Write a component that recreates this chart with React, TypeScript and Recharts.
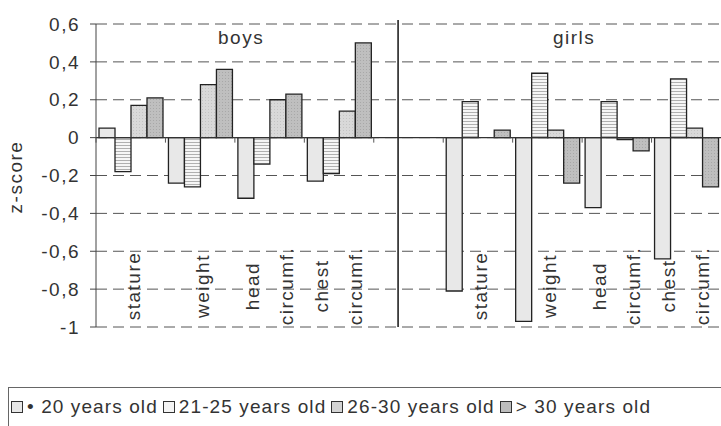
import { BarChart, Bar, XAxis, YAxis, CartesianGrid, ReferenceLine } from 'recharts'

// categories: 4 boys measures, an empty spacer, 4 girls measures
const categories = [
  'stature', 'weight', 'head circumf.', 'chest circumf.', '',
  'stature', 'weight', 'head circumf.', 'chest circumf.',
]
const under20 = [0.05, -0.24, -0.32, -0.23, null, -0.81, -0.97, -0.37, -0.64]
const y21to25 = [-0.18, -0.26, -0.14, -0.19, null, 0.19, 0.34, 0.19, 0.31]
const y26to30 = [0.17, 0.28, 0.2, 0.14, null, null, 0.04, -0.01, 0.05]
const over30 = [0.21, 0.36, 0.23, 0.5, null, 0.04, -0.24, -0.07, -0.26]

const yTicks = [-1, -0.8, -0.6, -0.4, -0.2, 0, 0.2, 0.4, 0.6]
const seriesNames = ['• 20 years old', '21-25 years old', '26-30 years old', '> 30 years old']

const data = categories.map((cat, i) => ({
  cat,
  a: under20[i],
  b: y21to25[i],
  c: y26to30[i],
  d: over30[i],
}))

const W = 721
const H = 426
const TOP = 24
const BOTTOM = 327
const LEFT = 96
const CAT_W = (W - LEFT) / categories.length
const ZERO_Y = TOP + (BOTTOM - TOP) * (0.6 / 1.6)
const LABEL_Y = 286
const DIVIDER_FRAC = 0.35 // where the boys|girls line sits inside the spacer slot
const INK = '#333'
const FONT = '"Liberation Sans", Arial, sans-serif'

const fills = ['#e8e8e8', 'url(#hatch)', 'url(#dots)', 'url(#dark)']
const swatch = ['#e8e8e8', '#f4f4f4', '#d4d4d4', '#bdbdbd']

function CatTick(props: any) {
  const { x, payload } = props
  const value = payload && payload.value ? String(payload.value) : ''
  const words = value ? value.split(' ') : []
  const offs = words.length > 1 ? [-11, 23] : [9]
  const left = x - CAT_W / 2
  return (
    <g>
      <line x1={left} x2={left} y1={ZERO_Y} y2={ZERO_Y + 5} stroke="#555" />
      {value === '' && (
        <line
          x1={left + CAT_W * DIVIDER_FRAC}
          x2={left + CAT_W * DIVIDER_FRAC}
          y1={TOP - 4}
          y2={BOTTOM}
          stroke="#222"
          strokeWidth={1.6}
        />
      )}
      {words.map((w, i) => (
        <text
          key={i}
          x={x + offs[i]}
          y={LABEL_Y}
          textAnchor="middle"
          fontSize={19}
          fill={INK}
          transform={`rotate(-90, ${x + offs[i]}, ${LABEL_Y})`}
        >
          {w}
        </text>
      ))}
    </g>
  )
}

export default function App() {
  return (
    <div
      style={{
        position: 'absolute',
        left: 0,
        top: 0,
        width: W,
        height: H,
        fontFamily: FONT,
        letterSpacing: '1.5px',
        color: INK,
        background: '#fff',
        overflow: 'hidden',
      }}
    >
      <BarChart
        width={W}
        height={H}
        data={data}
        margin={{ top: TOP, right: 0, bottom: H - BOTTOM - 1, left: 0 }}
        barCategoryGap={3}
        barGap={0}
        style={{ fontFamily: FONT }}
      >
        <defs>
          <pattern id="hatch" width="4" height="3" patternUnits="userSpaceOnUse">
            <rect width="4" height="3" fill="#f6f6f6" />
            <line x1="0" y1="1.5" x2="4" y2="1.5" stroke="#b0b0b0" strokeWidth={1} />
          </pattern>
          <pattern id="dots" width="3" height="3" patternUnits="userSpaceOnUse">
            <rect width="3" height="3" fill="#d9d9d9" />
            <rect x="1" y="1" width="1" height="1" fill="#c4c4c4" />
          </pattern>
          <pattern id="dark" width="3" height="3" patternUnits="userSpaceOnUse">
            <rect width="3" height="3" fill="#bfbfbf" />
            <rect x="0" y="0" width="1" height="1" fill="#a8a8a8" />
          </pattern>
        </defs>
        <CartesianGrid vertical={false} stroke="#555" strokeDasharray="11 6" />
        <XAxis
          dataKey="cat"
          height={1}
          axisLine={false}
          tickLine={false}
          interval={0}
          tick={CatTick}
        />
        <YAxis
          width={LEFT}
          domain={[-1, 0.6]}
          ticks={yTicks}
          interval={0}
          tickSize={6}
          tickMargin={10}
          axisLine={{ stroke: '#444' }}
          tickLine={{ stroke: '#444' }}
          tick={{ fontSize: 19, fill: INK }}
          tickFormatter={(v: number) => String(v).replace('.', ',')}
        />
        {['a', 'b', 'c', 'd'].map((k, i) => (
          <Bar
            key={k}
            dataKey={k}
            name={seriesNames[i]}
            fill={fills[i]}
            stroke="#222"
            strokeWidth={1.3}
            isAnimationActive={false}
          />
        ))}
        <ReferenceLine y={0} stroke="#333" strokeWidth={1.3} />
      </BarChart>

      <div style={{ position: 'absolute', left: 218, top: 27, fontSize: 19 }}>boys</div>
      <div style={{ position: 'absolute', left: 553, top: 27, fontSize: 19 }}>girls</div>
      <div
        style={{
          position: 'absolute',
          left: 16,
          top: 177,
          fontSize: 19,
          transform: 'translate(-50%, -50%) rotate(-90deg)',
          whiteSpace: 'nowrap',
        }}
      >
        z-score
      </div>

      <div
        style={{
          position: 'absolute',
          left: 8,
          top: 387,
          width: W,
          height: 50,
          borderTop: '1px solid #666',
          borderLeft: '1px solid #666',
          display: 'flex',
          alignItems: 'center',
          paddingLeft: 2,
          paddingBottom: 12,
          boxSizing: 'border-box',
          fontSize: 19,
          letterSpacing: '1.1px',
          whiteSpace: 'nowrap',
        }}
      >
        {seriesNames.map((n, i) => (
          <div key={n} style={{ display: 'flex', alignItems: 'center', marginRight: 5 }}>
            <span
              style={{
                display: 'inline-block',
                width: 10,
                height: 10,
                border: '1px solid #333',
                background: swatch[i],
                marginRight: 4,
              }}
            />
            <span>{n}</span>
          </div>
        ))}
      </div>
    </div>
  )
}
